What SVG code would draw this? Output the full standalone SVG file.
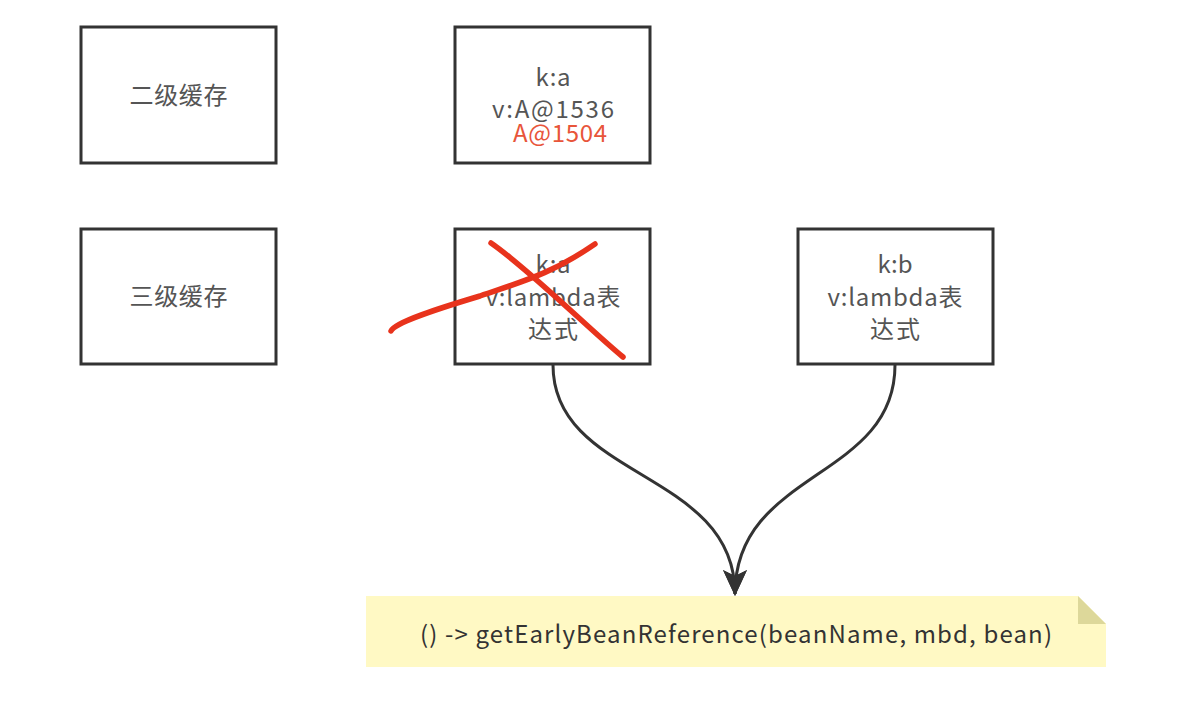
<svg xmlns="http://www.w3.org/2000/svg" width="1194" height="704" viewBox="0 0 1194 704">
<defs>
<style>
.box{fill:#fff;stroke:#333;stroke-width:3}
.t{font-family:"Noto Sans CJK SC","Microsoft YaHei",sans-serif;font-size:24px;fill:#555;text-anchor:middle}
.red{fill:#e8553a}
.con{fill:none;stroke:#333;stroke-width:3}
.x{fill:none;stroke:#e8331c;stroke-width:5.5;stroke-linecap:round}
</style>
<marker id="arr" markerWidth="26" markerHeight="24" refX="24" refY="12" orient="auto" markerUnits="userSpaceOnUse">
<path d="M0,0 L26,12 L0,24 L6,12 Z" fill="#333"/>
</marker>
</defs>
<rect width="1194" height="704" fill="#fff"/>
<g id="l2"><rect class="box" x="81" y="27" width="195" height="136"/><text class="t" x="178.5" y="104" textLength="98">二级缓存</text></g>
<g id="l3"><rect class="box" x="81" y="229" width="195" height="135"/><text class="t" x="178.5" y="305" textLength="98">三级缓存</text></g>
<g id="ka2"><rect class="box" x="455" y="27" width="195" height="136"/>
<text class="t" x="553" y="86" textLength="35">k:a</text><text class="t" x="553" y="118" textLength="122">v:A@1536</text><text class="t red" x="560" y="142" font-size="22" textLength="94">A@1504</text></g>
<g id="ka3"><rect class="box" x="455" y="229" width="195" height="135"/>
<text class="t" x="553" y="273" textLength="35">k:a</text><text class="t" x="553" y="306" textLength="135">v:lambda表</text><text class="t" x="553" y="338" textLength="50">达式</text></g>
<g id="kb3"><rect class="box" x="798" y="229" width="195" height="135"/>
<text class="t" x="895" y="273" textLength="35">k:b</text><text class="t" x="895" y="306" textLength="135">v:lambda表</text><text class="t" x="895" y="338" textLength="50">达式</text></g>
<g id="note"><path d="M366,596 H1078 L1106,624 V667 H366 Z" fill="#fff9c4"/><path d="M1078,596 L1106,624 H1078 Z" fill="#ddd89a"/>
<text x="420" y="643" textLength="632" style="font-family:'Noto Sans CJK SC',sans-serif;font-size:24px;fill:#333">() -&gt; getEarlyBeanReference(beanName, mbd, bean)</text></g>
<g id="connectors">
<path class="con" d="M553,365 C553,480 735,470 735,594" marker-end="url(#arr)"/>
<path class="con" d="M895,365 C895,480 735,470 735,594" marker-end="url(#arr)"/>
</g>
<g id="cross">
<path class="x" d="M391,331 C395,322 440,308 480,296 C520,282 550,275 595,244"/>
<path class="x" d="M491,243 C530,270 590,330 623,357"/>
</g>
</svg>
